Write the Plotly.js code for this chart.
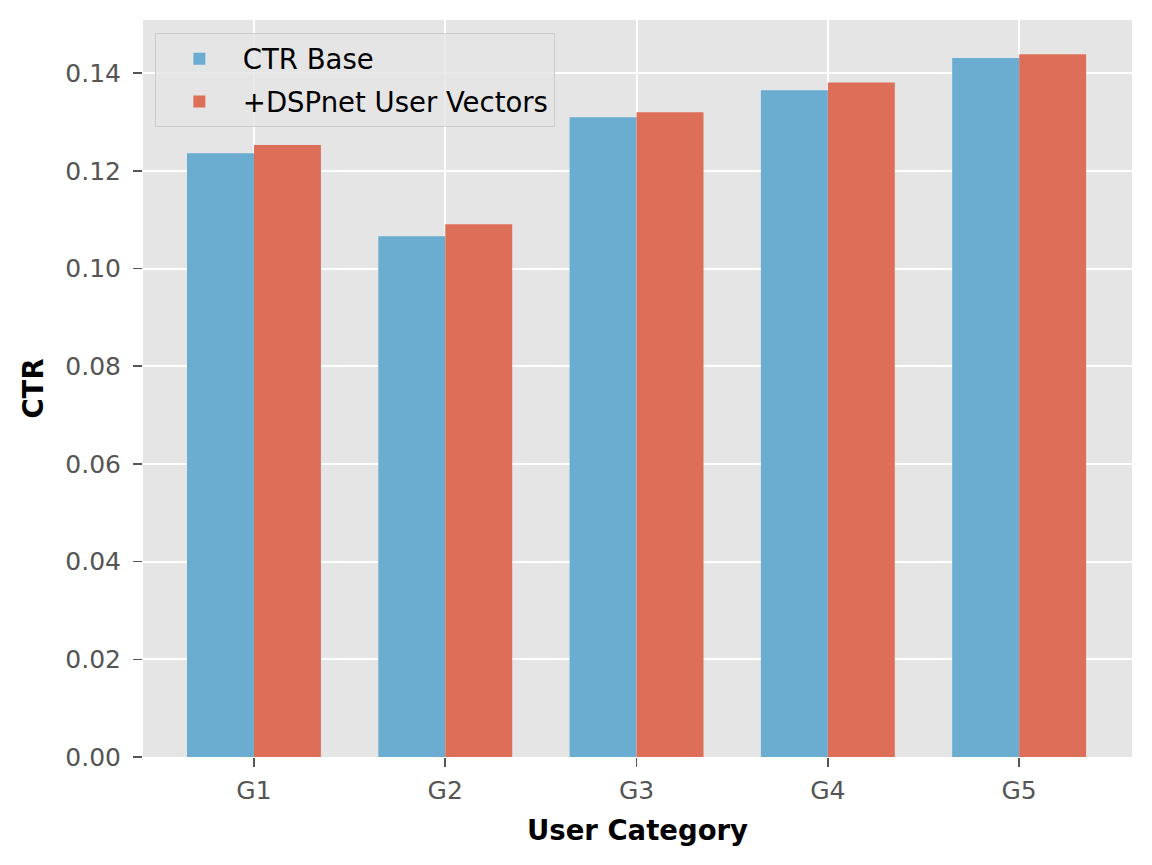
<!DOCTYPE html>
<html>
<head>
<meta charset="utf-8">
<script src="https://cdn.plot.ly/plotly-3.0.1.min.js"></script>
<style>body{margin:0;padding:0;background:#fff;}#chart{width:1152px;height:865px;}</style>
</head>
<body>
<div id="chart"></div>
<script>
const categories = ["G1", "G2", "G3", "G4", "G5"];
const ctrBase = [0.1236, 0.1066, 0.1310, 0.1365, 0.1431];
const ctrDspnet = [0.1253, 0.1091, 0.1320, 0.1381, 0.1439];
const seriesNames = ["CTR Base", "+DSPnet User Vectors"];
const yTicks = [0.00, 0.02, 0.04, 0.06, 0.08, 0.10, 0.12, 0.14];

const font = "DejaVu Sans, sans-serif";
const traces = [
  {type: "bar", x: categories, y: ctrBase, name: seriesNames[0], legendgroup: "a",
   marker: {color: "rgb(107,172,209)", line: {width: 0}}},
  {type: "bar", x: categories, y: ctrDspnet, name: seriesNames[1], legendgroup: "b",
   marker: {color: "rgb(221,111,89)", line: {width: 0}}}
];
const layout = {
  width: 1152, height: 865,
  margin: {l: 143, r: 20, t: 20, b: 108},
  paper_bgcolor: "#ffffff",
  plot_bgcolor: "#E5E5E5",
  barmode: "group",
  bargap: 0.3,
  bargroupgap: 0,
  font: {family: font, color: "#555555", size: 25},
  showlegend: true,
  legend: {
    x: 0.012, y: 0.982, xanchor: "left", yanchor: "top",
    bgcolor: "rgba(229,229,229,0.8)", bordercolor: "#cccccc", borderwidth: 1,
    font: {family: font, size: 27.5, color: "#000000"},
    traceorder: "grouped",
    tracegroupgap: 4,
    itemwidth: 77
  },
  xaxis: {
    type: "category",
    range: [-0.58, 4.59],
    showgrid: true, gridcolor: "#ffffff", gridwidth: 2,
    ticks: "outside", ticklen: 9, tickwidth: 1.6, tickcolor: "#555555",
    ticklabelstandoff: 2,
    tickfont: {family: font, size: 25, color: "#555555"},
    zeroline: false, showline: false,
    automargin: false,
    title: {text: "<b>User Category</b>", font: {family: font, size: 27.5, color: "#000000"}, standoff: 16}
  },
  yaxis: {
    range: [0, 0.1509],
    tickvals: yTicks,
    ticktext: yTicks.map(v => v.toFixed(2)),
    showgrid: true, gridcolor: "#ffffff", gridwidth: 2,
    ticks: "outside", ticklen: 9, tickwidth: 1.6, tickcolor: "#555555",
    ticklabelstandoff: 7,
    tickfont: {family: font, size: 25, color: "#555555"},
    zeroline: false, showline: false,
    automargin: false,
    title: {text: "<b>CTR</b>", font: {family: font, size: 27.5, color: "#000000"}, standoff: 13}
  }
};
Plotly.newPlot("chart", traces, layout, {displayModeBar: false, staticPlot: true});
</script>
</body>
</html>
